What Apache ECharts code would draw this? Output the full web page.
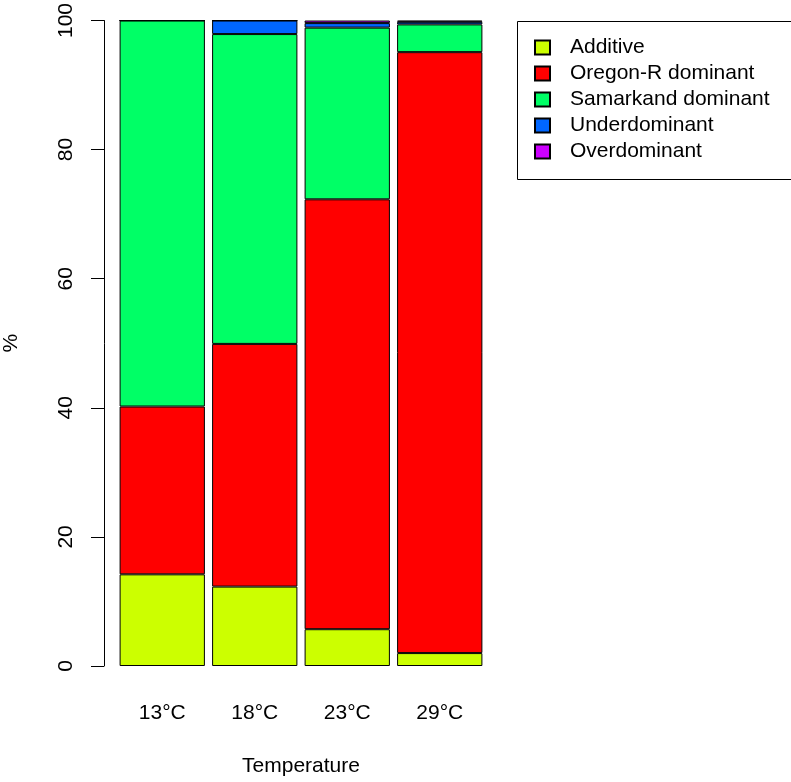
<!DOCTYPE html>
<html>
<head>
<meta charset="utf-8">
<script src="https://cdn.jsdelivr.net/npm/echarts@6/dist/echarts.min.js"></script>
<style>html,body{margin:0;padding:0;background:#fff}#c{width:791px;height:782px}</style>
</head>
<body>
<div id="c"></div>
<script>
const categories = ['13°C', '18°C', '23°C', '29°C'];
const additive = [14.2, 12.3, 5.7, 2.0];
const oregonR = [26.0, 37.6, 66.6, 93.1];
const samarkand = [59.8, 48.0, 26.6, 4.3];
const underdominant = [0, 2.1, 0.7, 0.4];
const overdominant = [0, 0, 0.4, 0.2];
const seriesNames = ['Additive', 'Oregon-R dominant', 'Samarkand dominant', 'Underdominant', 'Overdominant'];
const seriesColors = ['#CCFF00', '#FF0000', '#00FF66', '#0066FF', '#CC00FF'];
const yTicks = [0, 20, 40, 60, 80, 100];

const values = [additive, oregonR, samarkand, underdominant, overdominant];
const font = 'Liberation Sans, Arial, sans-serif';
const chart = echarts.init(document.getElementById('c'));
chart.setOption({
  animation: false,
  textStyle: { fontFamily: font },
  grid: { left: 113, right: 305, top: 19, bottom: 113 },
  graphic: [{
    type: 'rect', left: 515, top: 19,
    shape: { width: 274, height: 158 },
    style: { fill: 'none', stroke: '#000', lineWidth: 1 }
  }],
  legend: {
    orient: 'vertical', left: 534, top: 37, padding: 0,
    itemWidth: 15, itemHeight: 14, itemGap: 5,
    icon: 'rect',
    textStyle: { fontSize: 21, color: '#000', fontFamily: font, padding: [0, 0, 0, 15], lineHeight: 16 },
    data: seriesNames
  },
  xAxis: {
    type: 'category', data: categories,
    axisLine: { show: false }, axisTick: { show: false },
    axisLabel: { fontSize: 21, color: '#000', margin: 37, fontFamily: font },
    name: 'Temperature', nameLocation: 'middle', nameGap: 90,
    nameTextStyle: { fontSize: 21, color: '#000', fontFamily: font }
  },
  yAxis: {
    type: 'value', min: yTicks[0], max: yTicks[yTicks.length - 1], interval: 20,
    offset: 12,
    splitLine: { show: false },
    axisLine: { show: true, lineStyle: { color: '#000', width: 1 } },
    axisTick: { show: true, length: 13, lineStyle: { color: '#000' } },
    axisLabel: { fontSize: 21, color: '#000', rotate: 90, margin: 27, fontFamily: font },
    name: '%', nameLocation: 'middle', nameGap: 82, nameRotate: 90,
    nameTextStyle: { fontSize: 21, color: '#000', fontFamily: font }
  },
  series: seriesNames.map((n, i) => ({
    name: n, type: 'bar', stack: 'total', data: values[i],
    barCategoryGap: '7.8%',
    itemStyle: { color: seriesColors[i], borderColor: '#000', borderWidth: 1 }
  }))
});
</script>
</body>
</html>
